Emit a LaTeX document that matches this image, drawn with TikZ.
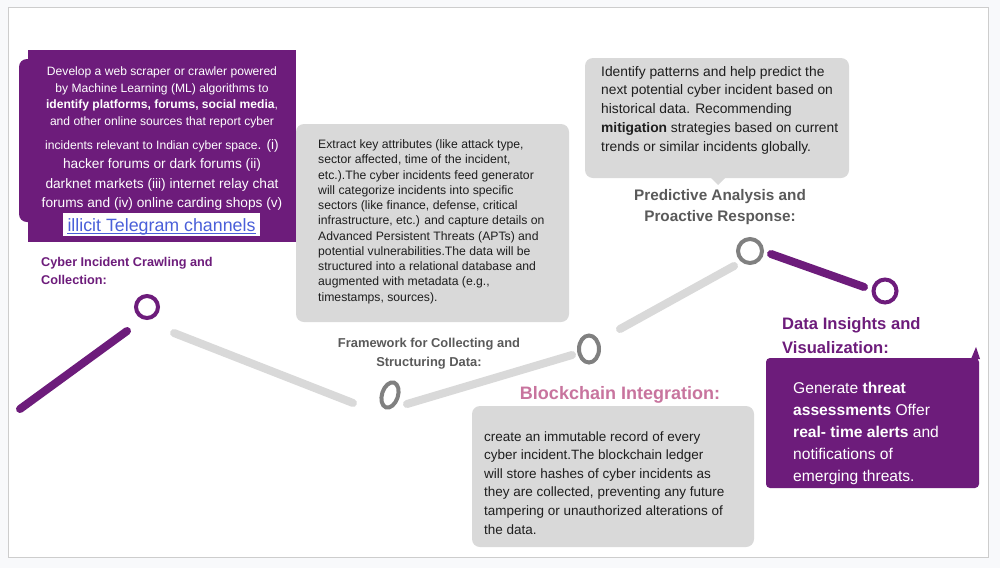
\documentclass[tikz,border=0pt]{standalone}
\usepackage{fontspec}
\usetikzlibrary{shapes.geometric}
\setmainfont{Liberation Sans}
\definecolor{purp}{HTML}{6D1C7B}
\definecolor{boxgray}{HTML}{D9D9D9}
\definecolor{linegray}{HTML}{D9D9D9}
\definecolor{ringgray}{HTML}{808080}
\definecolor{labgray}{HTML}{5A5A5A}
\definecolor{pinkt}{HTML}{C8749E}
\definecolor{linkblue}{HTML}{4A5FD9}
\definecolor{outerbg}{HTML}{F8F9FB}
\definecolor{framec}{HTML}{CDCDCD}
\definecolor{txt}{HTML}{1E1E1E}
\tikzset{
  graybox/.style={fill=boxgray, draw=none, rounded corners=8pt},
  purpbox/.style={fill=purp, draw=none},
  purpline/.style={draw=purp, line width=8pt, line cap=round},
  grayline/.style={draw=linegray, line width=8pt, line cap=round},
  purpring/.style={draw=purp, line width=4pt, fill=white},
  grayring/.style={draw=ringgray, line width=4pt, fill=white},
  blocktext/.style={inner sep=0pt, anchor=north west, align=left, text=txt},
}
\newcommand{\fs}[2]{\fontsize{#1}{#2}\selectfont}
\begin{document}
\begin{tikzpicture}[x=1pt,y=-1pt]
\useasboundingbox (0,0) rectangle (1000,568);
\fill[outerbg] (0,0) rectangle (1000,568);
\draw[framec, fill=white, line width=1pt] (8.5,7.5) rectangle (988.5,557.5);

% Box 1
\fill[purp, rounded corners=8pt] (19,59) rectangle (200,222);
\fill[purp] (28,50) rectangle (296,242);
\fill[white] (63,213) rectangle (260,236);
\node[inner sep=0pt, anchor=north, align=center, text=white, font=\fs{12.1}{16.7}] (b1a) at (162,63.6)
 {\strut Develop a web scraper or crawler powered\\
  by Machine Learning (ML) algorithms to\\
  \textbf{identify platforms, forums, social media},\\
  and other online sources that report cyber};
\node[inner sep=0pt, anchor=north, align=center, text=white, font=\fs{13.7}{19.3}] (b1b) at (162,135.8)
 {\strut{\fs{12.1}{19.3}incidents relevant to Indian cyber space}. (i)\\
  hacker forums or dark forums (ii)\\
  darknet markets (iii) internet relay chat\\
  forums and (iv) online carding shops (v)};
\node[inner sep=0pt, anchor=base, text=linkblue, font=\fs{17.8}{20}] (b1c) at (161.5,231)
 {illicit Telegram channels};
\draw[linkblue, line width=1pt] (b1c.base west) ++(0,2.5) -- ([yshift=-2.5pt]b1c.base east);

% Box 2
\fill[graybox] (296,124) rectangle (569,322);
\node[blocktext, font=\fs{12.2}{15.27}] (b2) at (318,137.6)
 {\strut Extract key attributes (like attack type,\\
  sector affected, time of the incident,\\
  etc.).The cyber incidents feed generator\\
  will categorize incidents into specific\\
  sectors (like finance, defense, critical\\
  infrastructure, etc.) and capture details on\\
  Advanced Persistent Threats (APTs) and\\
  potential vulnerabilities.The data will be\\
  structured into a relational database and\\
  augmented with metadata (e.g.,\\
  timestamps, sources).};

% Box 3
\fill[graybox] (585,58) rectangle (849,178);
\fill[boxgray] (710,177) -- (726,177) -- (718,185) -- cycle;
\node[blocktext, font=\fs{13.8}{18.75}] (b3) at (601,62.9)
 {\strut Identify patterns and help predict the\\
  next potential cyber incident based on\\
  historical data. Recommending\\
  \textbf{mitigation} strategies based on current\\
  trends or similar incidents globally.};

% Box 4
\fill[graybox] (472,406) rectangle (754,547);
\node[blocktext, font=\fs{13.5}{18.6}] (b4) at (484,427.9)
 {\strut create an immutable record of every\\
  cyber incident.The blockchain ledger\\
  will store hashes of cyber incidents as\\
  they are collected, preventing any future\\
  tampering or unauthorized alterations of\\
  the data.};

% Box 5
\fill[purp, rounded corners=4pt] (766,358) rectangle (979,488);
\fill[purp] (971,359) -- (980,359) -- (976,347) -- cycle;
\node[blocktext, text=white, font=\fs{15.6}{22}] (b5) at (793,377.5)
 {\strut Generate \textbf{threat}\\
  \textbf{assessments} Offer\\
  \textbf{real- time alerts} and\\
  notifications of\\
  emerging threats.};

% Labels
\node[inner sep=0pt, anchor=north west, align=left, text=purp, font=\bfseries\fs{12.7}{18}] (l1) at (41,253.3)
 {\strut Cyber Incident Crawling and\\ Collection:};
\node[inner sep=0pt, anchor=north, align=center, text=labgray, font=\bfseries\fs{12.9}{19}] (l2) at (429,334.4)
 {\strut Framework for Collecting and\\ Structuring Data:};
\node[inner sep=0pt, anchor=north, align=center, text=labgray, font=\bfseries\fs{15.3}{21}] (l3) at (720,186)
 {\strut Predictive Analysis and\\ Proactive Response:};
\node[inner sep=0pt, anchor=base, text=pinkt, font=\bfseries\fs{18}{22}] (l4) at (620,399.5)
 {Blockchain Integration:};
\node[inner sep=0pt, anchor=north west, align=left, text=purp, font=\bfseries\fs{16.6}{24}] (l5) at (782,312.4)
 {\strut Data Insights and\\ Visualization:};

% Timeline
\coordinate (s0) at (20,409);
\coordinate (s1) at (127,331);
\node[purpring, circle, minimum size=22pt, inner sep=0pt] (r1) at (147,307) {};
\coordinate (g1a) at (174,333);
\coordinate (g1b) at (353,403);
\node[grayring, ellipse, minimum width=16pt, minimum height=26pt, inner sep=0pt, rotate=-18] (r2) at (390,395) {};
\coordinate (g2a) at (407,404);
\coordinate (g2b) at (572,355);
\node[grayring, ellipse, minimum width=20pt, minimum height=27pt, inner sep=0pt] (r3) at (589,349) {};
\coordinate (g3a) at (620,329);
\coordinate (g3b) at (734,266);
\node[grayring, circle, minimum size=24pt, inner sep=0pt] (r4) at (750,251) {};
\coordinate (p4a) at (771,254);
\coordinate (p4b) at (864,287);
\node[purpring, circle, minimum size=23pt, inner sep=0pt] (r5) at (885,291) {};

\draw[purpline] (s0) -- (s1);
\draw[grayline] (g1a) -- (g1b);
\draw[grayline] (g2a) -- (g2b);
\draw[grayline] (g3a) -- (g3b);
\draw[purpline] (p4a) -- (p4b);
\end{tikzpicture}
\end{document}
